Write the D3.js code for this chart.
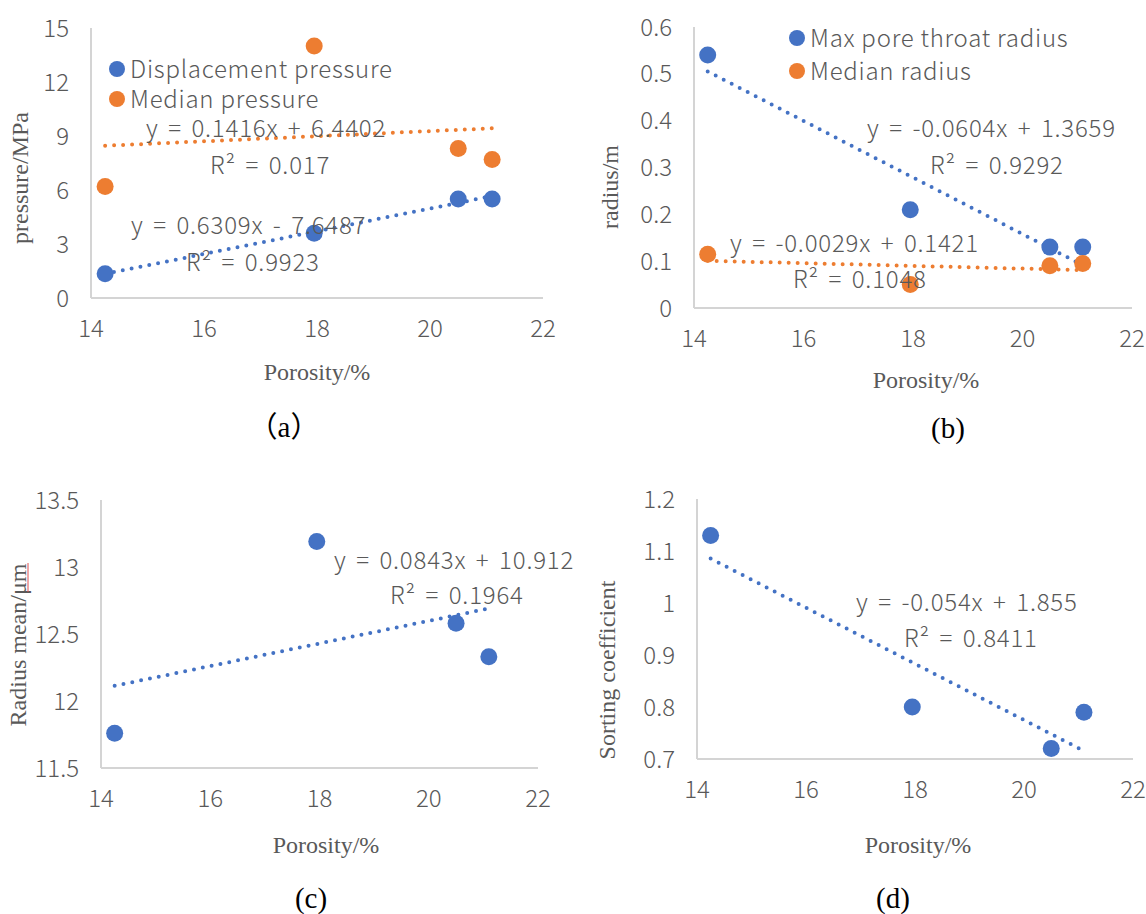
<!DOCTYPE html>
<html>
<head>
<meta charset="utf-8">
<script src="https://cdn.jsdelivr.net/npm/d3@7"></script>
<style>
  body { margin: 0; background: #fff; }
  .tick-label, .eq, .legend-text { font-family: "Noto Sans CJK SC", "Noto Sans", sans-serif; font-weight: 300; fill: #595959; }
  .legend-text { letter-spacing: 0.75px; }
  .eq { letter-spacing: 0.8px; word-spacing: 3.5px; }
  .axis-title { font-family: "Liberation Serif", "Times New Roman", serif; fill: #595959; font-size: 24px; }
  .panel-label { font-family: "Liberation Serif", "Noto Sans CJK SC", serif; fill: #000; font-size: 29px; }
</style>
</head>
<body>
<script>
// porosity of the four samples (shared x values)
var porosity = [14.25, 17.95, 20.5, 21.1];
var xTicks = [14, 16, 18, 20, 22];

// (a)
var displacementPressure = [1.35, 3.6, 5.5, 5.5];
var medianPressure = [6.2, 14.0, 8.3, 7.7];
var pressureTicks = [0, 3, 6, 9, 12, 15];
// (b)
var maxPoreThroatRadius = [0.54, 0.21, 0.13, 0.13];
var medianRadius = [0.115, 0.05, 0.09, 0.095];
var radiusTicks = [0, 0.1, 0.2, 0.3, 0.4, 0.5, 0.6];
// (c)
var radiusMean = [11.76, 13.19, 12.58, 12.33];
var radiusMeanTicks = [11.5, 12, 12.5, 13, 13.5];
// (d)
var sortingCoefficient = [1.13, 0.80, 0.72, 0.79];
var sortingTicks = [0.7, 0.8, 0.9, 1, 1.1, 1.2];

// trendline coefficients [slope, intercept]
var trendDisplacement = [0.6309, -7.6487];
var trendMedianPressure = [0.1416, 6.4402];
var trendMaxRadius = [-0.0604, 1.3659];
var trendMedianRadius = [-0.0029, 0.1421];
var trendRadiusMean = [0.0843, 10.912];
var trendSorting = [-0.054, 1.855];

var blue = "#4472C4", orange = "#ED7D31";

var svg = d3.select("body").append("svg")
    .attr("width", 1146)
    .attr("height", 914);

function drawPanel(p){
    var g = svg.append("g");
    var x = d3.scaleLinear().domain([14, 22]).range(p.xr);
    var y = d3.scaleLinear().domain([p.yTicks[0], p.yTicks[p.yTicks.length - 1]]).range(p.yr);

    // axis lines
    g.append("line").attr("x1", x(14)).attr("x2", x(14)).attr("y1", y.range()[0]).attr("y2", y.range()[1])
        .attr("stroke", "#d4d4d4").attr("stroke-width", 2);
    g.append("line").attr("x1", x(14)).attr("x2", x(22)).attr("y1", y.range()[0]).attr("y2", y.range()[0])
        .attr("stroke", "#d4d4d4").attr("stroke-width", 2);

    g.selectAll(".ytl").data(p.yTicks).enter().append("text")
        .attr("class", "tick-label")
        .attr("x", x(14) - 22)
        .attr("y", function(d){ return y(d); })
        .attr("dy", "0.36em")
        .attr("text-anchor", "end")
        .style("font-size", "24px")
        .text(function(d){ return d; });
    g.selectAll(".xtl").data(xTicks).enter().append("text")
        .attr("class", "tick-label")
        .attr("x", function(d){ return x(d); })
        .attr("y", y.range()[0] + 30)
        .attr("dy", "0.36em")
        .attr("text-anchor", "middle")
        .style("font-size", "24px")
        .text(function(d){ return d; });

    // trendlines then markers
    p.series.forEach(function(s){
        var xs = d3.extent(porosity);
        g.append("line")
            .attr("x1", x(xs[0])).attr("y1", y(s.trend[0] * xs[0] + s.trend[1]))
            .attr("x2", x(xs[1])).attr("y2", y(s.trend[0] * xs[1] + s.trend[1]))
            .attr("stroke", s.color).attr("stroke-width", 4)
            .attr("stroke-linecap", "round").attr("stroke-dasharray", "0 9");
    });
    p.series.forEach(function(s){
        g.selectAll(null).data(s.values).enter().append("circle")
            .attr("cx", function(d, i){ return x(porosity[i]); })
            .attr("cy", function(d){ return y(d); })
            .attr("r", 8.5)
            .attr("fill", s.color);
    });

    // equations
    p.eqs.forEach(function(e){
        g.append("text").attr("class", "eq")
            .attr("x", e[0]).attr("y", e[1]).attr("dy", "0.36em")
            .style("font-size", "24px")
            .text(e[2]);
    });

    // legend
    if (p.legend) {
        p.legend.forEach(function(l){
            g.append("circle").attr("cx", l[0]).attr("cy", l[1]).attr("r", 8).attr("fill", l[2]);
            g.append("text").attr("class", "legend-text")
                .attr("x", l[0] + 13).attr("y", l[1]).attr("dy", "0.36em")
                .style("font-size", "24px")
                .text(l[3]);
        });
    }

    g.append("text").attr("class", "axis-title")
        .attr("transform", "translate(" + p.yTitle[0] + "," + p.yTitle[1] + ") rotate(-90)")
        .attr("text-anchor", "middle").attr("dy", "0.33em")
        .text(p.yTitle[2]);
    g.append("text").attr("class", "axis-title")
        .attr("x", p.xTitle[0]).attr("y", p.xTitle[1])
        .attr("text-anchor", "middle")
        .text("Porosity/%");
    g.append("text").attr("class", "panel-label")
        .attr("x", p.label[0]).attr("y", p.label[1])
        .attr("text-anchor", "middle")
        .text(p.label[2]);
    return g;
}

drawPanel({
    xr: [91, 543], yr: [298, 28], yTicks: pressureTicks,
    series: [
        {values: displacementPressure, color: blue, trend: trendDisplacement},
        {values: medianPressure, color: orange, trend: trendMedianPressure}
    ],
    eqs: [[146, 128, "y = 0.1416x + 6.4402"], [210, 165, "R² = 0.017"],
          [131, 225, "y = 0.6309x - 7.6487"], [186, 262, "R² = 0.9923"]],
    legend: [[117, 69, blue, "Displacement pressure"], [117, 99, orange, "Median pressure"]],
    yTitle: [20, 178, "pressure/MPa"],
    xTitle: [317, 380],
    label: [284, 437, "（a）"]
});

drawPanel({
    xr: [694, 1132], yr: [308, 27], yTicks: radiusTicks,
    series: [
        {values: maxPoreThroatRadius, color: blue, trend: trendMaxRadius},
        {values: medianRadius, color: orange, trend: trendMedianRadius}
    ],
    eqs: [[867, 128, "y = -0.0604x + 1.3659"], [930, 165, "R² = 0.9292"],
          [730, 243, "y = -0.0029x + 0.1421"], [793, 279, "R² = 0.1048"]],
    legend: [[797, 38, blue, "Max pore throat radius"], [797, 71, orange, "Median radius"]],
    yTitle: [610, 187, "radius/m"],
    xTitle: [926, 388],
    label: [948, 438, "(b)"]
});

var pc = drawPanel({
    xr: [101, 538], yr: [768, 500], yTicks: radiusMeanTicks,
    series: [{values: radiusMean, color: blue, trend: trendRadiusMean}],
    eqs: [[334, 560, "y = 0.0843x + 10.912"], [390, 595, "R² = 0.1964"]],
    yTitle: [18, 645, "Radius mean/μm"],
    xTitle: [326, 853],
    label: [311, 908, "(c)"]
});
// spell-check squiggle under "μm"
pc.append("line").attr("x1", 28).attr("x2", 28).attr("y1", 563).attr("y2", 592)
    .attr("stroke", "#e05050").attr("stroke-width", 1);

drawPanel({
    xr: [697, 1133], yr: [759, 499], yTicks: sortingTicks,
    series: [{values: sortingCoefficient, color: blue, trend: trendSorting}],
    eqs: [[856, 602, "y = -0.054x + 1.855"], [904, 638, "R² = 0.8411"]],
    yTitle: [607, 670, "Sorting coefficient"],
    xTitle: [918, 853],
    label: [893, 908, "(d)"]
});
</script>
</body>
</html>
